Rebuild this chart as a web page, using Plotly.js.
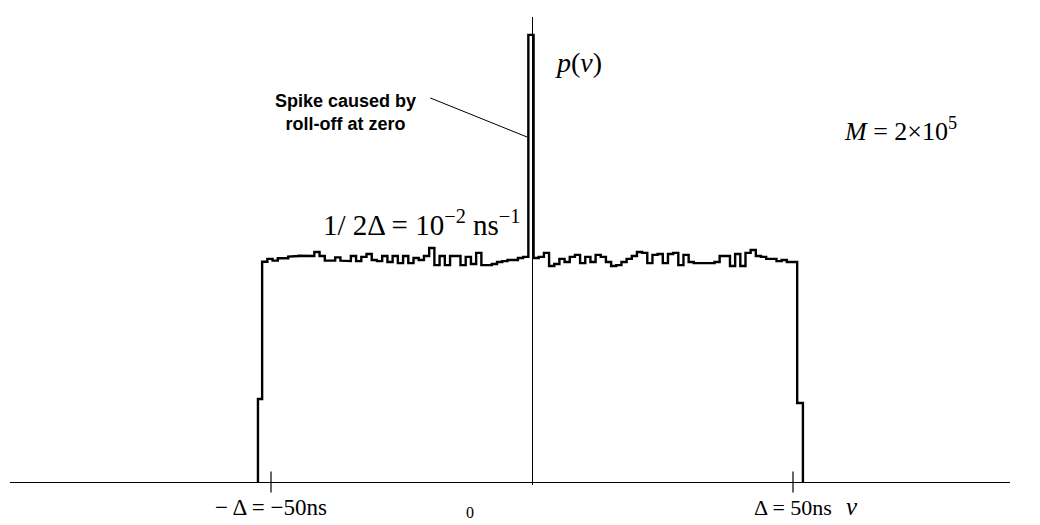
<!DOCTYPE html>
<html>
<head>
<meta charset="utf-8">
<script src="https://cdn.plot.ly/plotly-3.0.1.min.js"></script>
<style>html,body{margin:0;padding:0;background:#fff;}#chart{width:1040px;height:525px;}</style>
</head>
<body>
<div id="chart"></div>
<script>
// ---- data (p(v) in units of 1e-2 ns^-1, v in ns) ----
const leftValues = [0.992,1.005,0.997,1.008,1.008,1.015,1.018,1.019,1.019,1.018,
  1.036,1.018,0.997,0.997,1.012,0.997,0.995,1.018,0.995,1.014,
  1.027,1.000,0.995,1.018,0.991,1.018,0.986,1.018,0.986,1.009,
  1.000,1.018,1.054,0.977,1.018,0.977,1.018,1.018,0.977,1.014,
  0.982,1.032,0.977,0.977,0.982,0.991,0.995,1.000,1.000,1.009,1.014];
const rightValues = [1.009,1.014,1.032,0.973,0.982,1.005,0.991,1.014,1.023,0.986,
  1.014,0.991,1.023,1.014,0.991,0.973,0.977,0.991,1.005,1.018,
  1.036,1.032,0.986,1.023,1.027,0.986,1.027,1.032,0.977,1.023,
  0.991,0.986,0.986,0.986,0.986,0.991,1.018,1.018,0.973,1.027,
  0.973,1.032,1.045,1.018,1.014,1.005,1.005,0.995,1.000,0.991,0.991];
const spikeValue = 2.014;
const leftShoulder = 0.374;
const rightShoulder = 0.356;
// bin edges (ns)
const leftOuterEdge = -52.5, leftStart = -51.7;
const spikeLeft = -0.7, spikeRight = 0.3;
const rightEnd = 50.8, rightOuterEdge = 51.9;
const tickValues = [-50, 50];

// ---- build step outline ----
const xs = [], ys = [];
function seg(a, b, v){ xs.push(a, b); ys.push(v, v); }
xs.push(leftOuterEdge); ys.push(0);
seg(leftOuterEdge, leftStart, leftShoulder);
const lw = (spikeLeft - leftStart) / leftValues.length;
leftValues.forEach((v, i) => seg(leftStart + i*lw, leftStart + (i+1)*lw, v));
seg(spikeLeft, spikeRight, spikeValue);
const rw = (rightEnd - spikeRight) / rightValues.length;
rightValues.forEach((v, i) => seg(spikeRight + i*rw, spikeRight + (i+1)*rw, v));
seg(rightEnd, rightOuterEdge, rightShoulder);
xs.push(rightOuterEdge); ys.push(0);

const serif = 'Liberation Serif, Times New Roman, serif';

const traces = [
  {x: xs, y: ys, mode: 'lines', line: {color: '#000', width: 2.4, shape: 'linear'}, hoverinfo: 'skip', cliponaxis: false},
  {x: tickValues, y: tickValues.map(() => 0), mode: 'markers',
   marker: {symbol: 'line-ns', size: 15, line: {color: '#000', width: 1.2}}, hoverinfo: 'skip', cliponaxis: false}
];

const layout = {
  width: 1040, height: 525,
  margin: {l: 10, r: 30, t: 17, b: 40},
  paper_bgcolor: '#fff', plot_bgcolor: '#fff',
  showlegend: false,
  xaxis: {range: [-100.0, 91.57], showgrid: false, showticklabels: false, ticks: '',
          zeroline: true, zerolinecolor: '#000', zerolinewidth: 1, showline: false, fixedrange: true},
  yaxis: {range: [-0.0135, 2.0946], showgrid: false, showticklabels: false, ticks: '',
          zeroline: true, zerolinecolor: '#000', zerolinewidth: 1, showline: false, fixedrange: true},
  shapes: [
    {type: 'line', xref: 'x', yref: 'y', x0: -19.5, y0: 1.73, x1: -0.95, y1: 1.554,
     line: {color: '#000', width: 1}}
  ],
  annotations: [
    {x: -50, y: -0.049, xref: 'x', yref: 'paper', text: '\u2212 \u0394 = \u221250ns', showarrow: false,
     font: {family: serif, size: 23, color: '#000'}, xanchor: 'center', yanchor: 'middle'},
    {x: -11.9, y: -0.058, xref: 'x', yref: 'paper', text: '0', showarrow: false,
     font: {family: serif, size: 16, color: '#000'}, xanchor: 'center', yanchor: 'middle'},
    {x: 50, y: -0.049, xref: 'x', yref: 'paper', text: '\u0394 = 50ns', showarrow: false,
     font: {family: serif, size: 22, color: '#000'}, xanchor: 'center', yanchor: 'middle'},
    {x: 61.3, y: -0.047, xref: 'x', yref: 'paper', text: '<i>v</i>', showarrow: false,
     font: {family: serif, size: 25, color: '#000'}, xanchor: 'center', yanchor: 'middle'},
    {x: 8.9, y: 1.89, xref: 'x', yref: 'y', text: '<i>p</i>(<i>v</i>)', showarrow: false,
     font: {family: serif, size: 28, color: '#000'}, xanchor: 'center', yanchor: 'middle'},
    {x: 70.6, y: 1.586, xref: 'x', yref: 'y', text: '<i>M</i> = 2\u00d710<sup>5</sup>', showarrow: false,
     font: {family: serif, size: 26, color: '#000'}, xanchor: 'center', yanchor: 'middle'},
    {x: -21.1, y: 1.165, xref: 'x', yref: 'y', text: '1/ 2\u0394 = 10<sup>\u22122</sup> ns<sup>\u22121</sup>', showarrow: false,
     font: {family: serif, size: 29, color: '#000'}, xanchor: 'center', yanchor: 'middle'},
    {x: -35.8, y: 1.665, xref: 'x', yref: 'y', text: '<b>Spike caused by<br>roll-off at zero</b>', showarrow: false,
     font: {family: 'Liberation Sans, Arial, sans-serif', size: 18, color: '#000'}, xanchor: 'center', yanchor: 'middle', align: 'center'}
  ]
};

Plotly.newPlot('chart', traces, layout, {staticPlot: true, displayModeBar: false});
</script>
</body>
</html>
